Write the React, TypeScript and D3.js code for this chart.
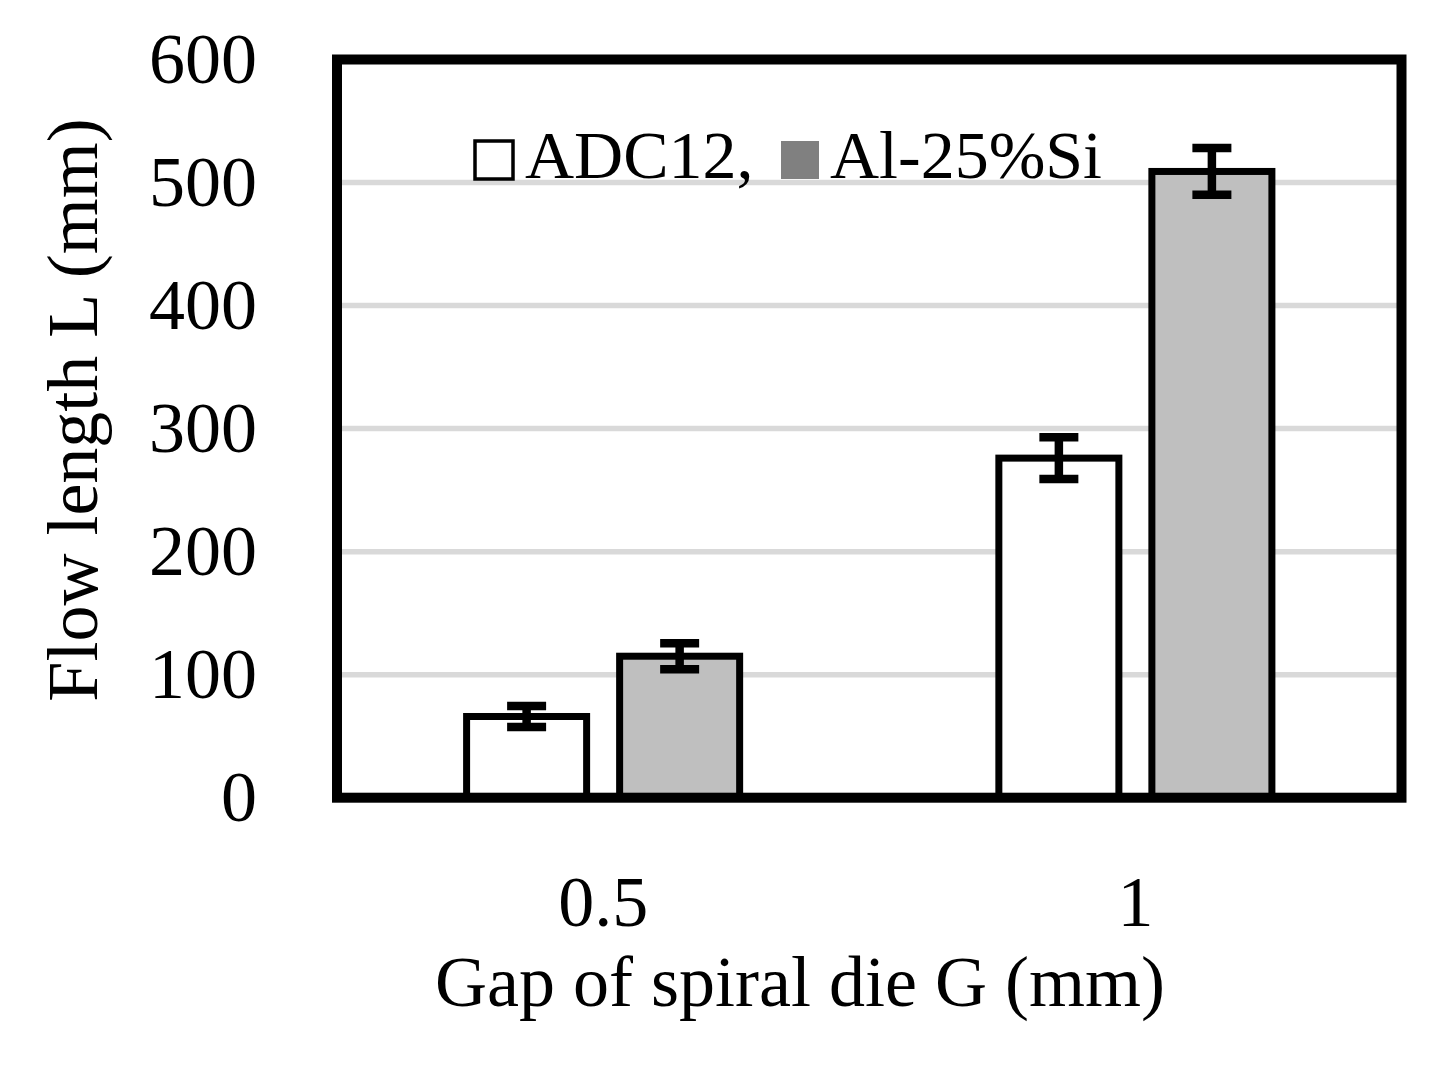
'use client';

import { useEffect, useRef } from 'react';
import * as d3 from 'd3';

// Data
const gaps = ['0.5', '1'];
const series = ['ADC12', 'Al-25%Si'];
const adc12Values = [66, 276];
const adc12Errors = [8.5, 17];
const alSiValues = [115, 509];
const alSiErrors = [10.5, 19];
const yTicks = [0, 100, 200, 300, 400, 500, 600];
const seriesFill = ['#ffffff', '#bfbfbf'];
const legendFill = ['#ffffff', '#808080'];

const FONT = '"Liberation Serif", "Times New Roman", serif';

export default function App() {
    const svgRef = useRef<SVGSVGElement>(null);
    const width = 1440;
    const height = 1067;

    useEffect(() => {
        if (!svgRef.current) return;

        // Clear previous
        d3.select(svgRef.current).selectAll('*').remove();

        const margin = { top: 59.5, right: 1440 - 1401.5, bottom: 1067 - 797.7, left: 337 };

        const svg = d3.select(svgRef.current)
            .attr('width', width)
            .attr('height', height);

        const rows = gaps.map((g, i) => ({
            gap: g,
            bars: [
                { key: series[0], value: adc12Values[i], err: adc12Errors[i], fill: seriesFill[0] },
                { key: series[1], value: alSiValues[i], err: alSiErrors[i], fill: seriesFill[1] },
            ],
        }));

        // Scales
        const x0 = d3.scaleBand<string>()
            .domain(gaps)
            .range([margin.left, width - margin.right])
            .paddingInner(0.487)
            .paddingOuter(0.2435);

        const x1 = d3.scaleBand<string>()
            .domain(series)
            .range([0, x0.bandwidth()])
            .paddingInner(0.2157);

        const y = d3.scaleLinear()
            .domain([0, 600])
            .range([height - margin.bottom, margin.top]);

        // Gridlines
        svg.append('g')
            .selectAll('line')
            .data(yTicks.filter(t => t > 0 && t < 600))
            .join('line')
            .attr('x1', margin.left)
            .attr('x2', width - margin.right)
            .attr('y1', d => y(d))
            .attr('y2', d => y(d))
            .attr('stroke', '#d9d9d9')
            .attr('stroke-width', 5.5);

        // Bars
        const group = svg.append('g')
            .selectAll('g')
            .data(rows)
            .join('g')
            .attr('transform', d => `translate(${x0(d.gap)},0)`);

        group.selectAll('rect')
            .data(d => d.bars)
            .join('rect')
            .attr('x', d => x1(d.key)!)
            .attr('width', x1.bandwidth())
            .attr('y', d => y(d.value))
            .attr('height', d => y(0) - y(d.value))
            .attr('fill', d => d.fill)
            .attr('stroke', '#000')
            .attr('stroke-width', 7);

        // Error bars
        const capHalf = 19.5;
        const err = group.selectAll('g.err')
            .data(d => d.bars)
            .join('g')
            .attr('class', 'err')
            .attr('stroke', '#000')
            .attr('stroke-width', 8.5);

        err.append('line')
            .attr('x1', d => x1(d.key)! + x1.bandwidth() / 2)
            .attr('x2', d => x1(d.key)! + x1.bandwidth() / 2)
            .attr('y1', d => y(d.value + d.err))
            .attr('y2', d => y(d.value - d.err));

        err.selectAll('line.cap')
            .data(d => [
                { cx: x1(d.key)! + x1.bandwidth() / 2, v: d.value + d.err },
                { cx: x1(d.key)! + x1.bandwidth() / 2, v: d.value - d.err },
            ])
            .join('line')
            .attr('class', 'cap')
            .attr('x1', d => d.cx - capHalf)
            .attr('x2', d => d.cx + capHalf)
            .attr('y1', d => y(d.v))
            .attr('y2', d => y(d.v));

        // Frame
        svg.append('rect')
            .attr('x', margin.left)
            .attr('y', margin.top)
            .attr('width', width - margin.left - margin.right)
            .attr('height', y(0) - margin.top)
            .attr('fill', 'none')
            .attr('stroke', '#000')
            .attr('stroke-width', 10);

        // Y tick labels
        svg.append('g')
            .selectAll('text')
            .data(yTicks)
            .join('text')
            .attr('x', 257)
            .attr('y', d => y(d))
            .attr('dy', '0.33em')
            .attr('text-anchor', 'end')
            .style('font-family', FONT)
            .style('font-size', '72px')
            .text(d => d);

        // X tick labels
        svg.append('g')
            .selectAll('text')
            .data(gaps)
            .join('text')
            .attr('x', d => x0(d)! + x0.bandwidth() / 2)
            .attr('y', 926)
            .attr('text-anchor', 'middle')
            .style('font-family', FONT)
            .style('font-size', '72px')
            .text(d => d);

        // Axis titles
        svg.append('text')
            .attr('x', 800)
            .attr('y', 1006)
            .attr('text-anchor', 'middle')
            .style('font-family', FONT)
            .style('font-size', '72px')
            .text('Gap of spiral die G (mm)');

        svg.append('text')
            .attr('transform', 'translate(97,410) rotate(-90)')
            .attr('text-anchor', 'middle')
            .style('font-family', FONT)
            .style('font-size', '72px')
            .text('Flow length L (mm)');

        // Legend
        const legend = svg.append('g');
        const legendItems = [
            { label: 'ADC12,', sx: 475, tx: 525, size: 38, fill: legendFill[0], stroke: '#000' },
            { label: 'Al-25%Si', sx: 781, tx: 830, size: 38, fill: legendFill[1], stroke: 'none' },
        ];
        legend.selectAll('rect')
            .data(legendItems)
            .join('rect')
            .attr('x', d => d.sx)
            .attr('y', 141)
            .attr('width', d => d.size)
            .attr('height', d => d.size)
            .attr('fill', d => d.fill)
            .attr('stroke', d => d.stroke)
            .attr('stroke-width', 3.5);
        legend.selectAll('text')
            .data(legendItems)
            .join('text')
            .attr('x', d => d.tx)
            .attr('y', 178)
            .style('font-family', FONT)
            .style('font-size', '68px')
            .text(d => d.label);
    }, []);

    return <svg ref={svgRef} style={{ position: 'absolute', left: 0, top: 0, background: '#fff' }} />;
}
